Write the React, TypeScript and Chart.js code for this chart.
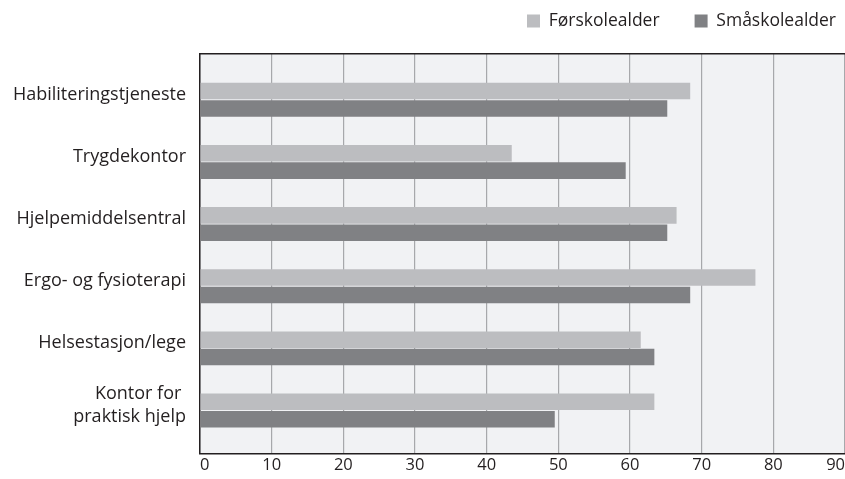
import { useEffect, useRef } from 'react';
import { Chart, registerables } from 'chart.js';

Chart.register(...registerables);

const categories: (string | string[])[] = [
  'Habiliteringstjeneste',
  'Trygdekontor',
  'Hjelpemiddelsentral',
  'Ergo- og fysioterapi',
  'Helsestasjon/lege',
  ['Kontor for ', 'praktisk hjelp'],
];
const seriesNames = ['Førskolealder', 'Småskolealder'];
const forskolealder = [68.4, 43.5, 66.5, 77.5, 61.5, 63.4];
const smaskolealder = [65.2, 59.4, 65.2, 68.4, 63.4, 49.5];
const xMin = 0;
const xMax = 90;
const xStep = 10;

const TEXT = '#231f20';
const FRAME = '#231f20';

const plotBg = {
  id: 'plotBg',
  beforeDraw(chart: any) {
    const { ctx, chartArea: a } = chart;
    ctx.save();
    ctx.fillStyle = '#f1f2f4';
    ctx.fillRect(a.left, a.top, a.right - a.left, a.bottom - a.top);
    ctx.restore();
  },
};

export default function App() {
  const ref = useRef<HTMLCanvasElement>(null);
  useEffect(() => {
    if (!ref.current) return;
    Chart.defaults.font.family = "'Open Sans', sans-serif";
    const toPoints = (vals: number[]) => vals.map((v, i) => ({ x: v, y: i }));
    const chart = new Chart(ref.current, {
      type: 'bar',
      data: {
        datasets: [
          {
            label: seriesNames[0],
            data: toPoints(forskolealder),
            backgroundColor: '#bcbdc0',
            borderWidth: 0,
            xAxisID: 'x',
            yAxisID: 'y',
            categoryPercentage: 0.56,
            barPercentage: 0.95,
          },
          {
            label: seriesNames[1],
            data: toPoints(smaskolealder),
            backgroundColor: '#808184',
            borderWidth: 0,
            xAxisID: 'x',
            yAxisID: 'y',
            categoryPercentage: 0.56,
            barPercentage: 0.95,
          },
        ],
      },
      options: {
        indexAxis: 'y',
        animation: false,
        responsive: false,
        layout: { padding: { top: -22.75, right: -26, left: 0, bottom: 0 } },
        plugins: {
          legend: {
            position: 'top',
            align: 'end',
            labels: {
              boxWidth: 13,
              boxHeight: 13,
              padding: 35,
              color: TEXT,
              font: { size: 17.5 },
            },
          },
          tooltip: { enabled: false },
        },
        scales: {
          x: {
            type: 'linear',
            position: 'bottom',
            min: xMin,
            max: xMax,
            offset: false,
            ticks: { stepSize: xStep, align: 'inner', padding: 2, color: TEXT, font: { size: 16.5 } },
            grid: { color: '#a7a8ab', lineWidth: 1.2, drawTicks: false, offset: false },
            border: { display: true, color: FRAME, width: 1.5 },
            afterFit: (s: any) => {
              s.paddingRight = 0;
              s.height = 24;
            },
          },
          xTop: {
            type: 'linear',
            position: 'top',
            display: true,
            grid: { display: false, drawTicks: false },
            ticks: { display: false },
            border: { display: true, color: FRAME, width: 1.5 },
            afterFit: (s: any) => {
              s.height = 14.25;
            },
          },
          y: {
            type: 'linear',
            reverse: true,
            offset: false,
            min: -0.737,
            max: 5.689,
            grid: { display: false, drawTicks: false, offset: false },
            border: { display: true, color: FRAME, width: 1.5 },
            afterBuildTicks: (s: any) => {
              s.ticks = categories.map((_, i) => ({ value: i }));
            },
            ticks: {
              autoSkip: false,
              padding: 14,
              labelOffset: -5,
              color: TEXT,
              font: { size: 18, lineHeight: 1.3 },
              callback: (v: any) => categories[v as number] as any,
            },
            afterFit: (s: any) => {
              s.width = 200;
            },
          },
        },
      } as any,
      plugins: [plotBg],
    });
    return () => chart.destroy();
  }, []);
  return (
    <div style={{ position: 'absolute', left: 0, top: 0, width: 845, height: 479, background: '#ffffff' }}>
      <canvas ref={ref} width={845} height={479} />
    </div>
  );
}
